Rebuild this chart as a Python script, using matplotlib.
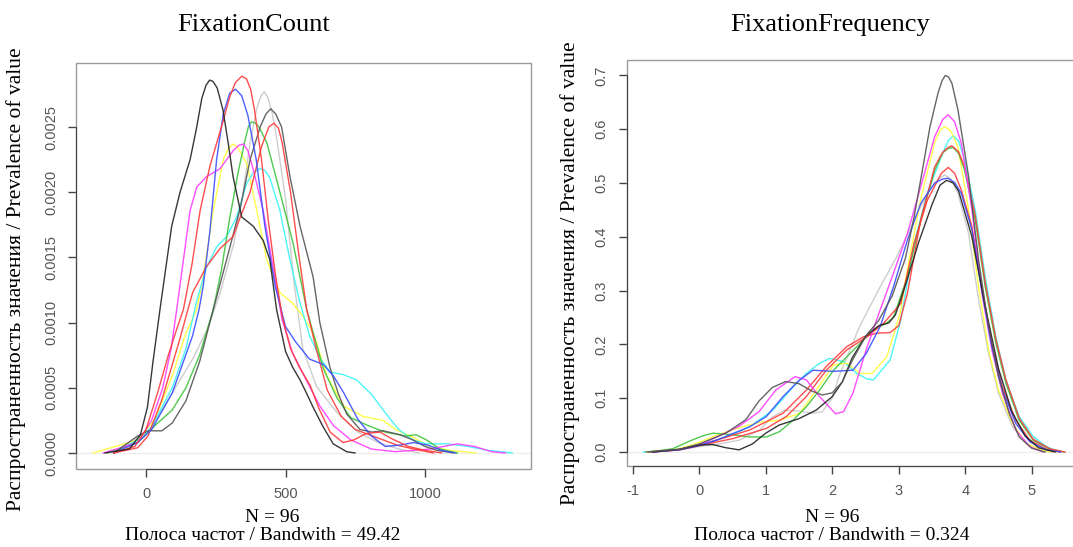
import matplotlib
matplotlib.use("Agg")
import matplotlib.pyplot as plt
from matplotlib.patches import Rectangle

# ---- FixationCount densities ----
fc_black_x = [-147, -60, -20, 5, 25, 50, 92, 122, 158, 180, 200, 215, 228, 240, 255, 276, 295, 312, 343, 384, 420, 444, 468, 500, 525, 552, 575, 599, 635, 671, 719, 749]
fc_black_y = [0, 0.00003, 0.00014, 0.00035, 0.0007, 0.0011, 0.00174, 0.002, 0.00225, 0.00248, 0.00272, 0.00282, 0.00286, 0.00285, 0.0028, 0.00263, 0.00237, 0.00212, 0.00181, 0.00174, 0.00163, 0.00148, 0.0011, 0.00078, 0.00066, 0.00056, 0.00046, 0.00035, 0.0002, 0.00007, 0.00001, 0]

fc_red1_x = [-116, -40, 0, 40, 80, 110, 134, 165, 194, 229, 277, 300, 320, 343, 360, 375, 389, 414, 438, 463, 488, 518, 549, 588, 620, 660, 706, 745, 790, 839, 880, 940, 1000, 1060]
fc_red1_y = [0, 0.00005, 0.00018, 0.00045, 0.00075, 0.00095, 0.0011, 0.00145, 0.00186, 0.0022, 0.00255, 0.00273, 0.00284, 0.00289, 0.00287, 0.00279, 0.00263, 0.00225, 0.00179, 0.00138, 0.00105, 0.0008, 0.00066, 0.00052, 0.00034, 0.00016, 0.00008, 0.0001, 0.00015, 0.00016, 0.00011, 0.00005, 0.00002, 0]

fc_blue_x = [-116, -30, 20, 94, 167, 190, 205, 229, 253, 277, 300, 321, 343, 365, 395, 426, 463, 500, 537, 586, 635, 672, 709, 759, 808, 857, 910, 960, 1010, 1060, 1110]
fc_blue_y = [0, 0.00008, 0.00018, 0.00046, 0.0009, 0.0011, 0.00128, 0.0017, 0.00225, 0.0026, 0.00276, 0.00279, 0.00274, 0.00259, 0.00225, 0.00174, 0.00128, 0.00097, 0.00085, 0.00072, 0.00068, 0.00059, 0.00046, 0.00026, 0.00013, 0.00005, 0.00006, 0.00008, 0.00006, 0.00002, 0]

fc_gray_x = [-116, 7, 94, 167, 220, 266, 315, 348, 373, 397, 412, 424, 436, 452, 468, 500, 531, 562, 611, 685, 759, 832, 906, 980]
fc_gray_y = [0, 0.00016, 0.00046, 0.00072, 0.00095, 0.00123, 0.00161, 0.002, 0.00238, 0.00264, 0.00274, 0.00277, 0.00273, 0.00261, 0.00242, 0.00195, 0.0013, 0.0008, 0.00051, 0.00031, 0.00016, 0.00008, 0.00003, 0]

fc_dark_x = [-116, -30, 7, 57, 94, 143, 192, 241, 291, 340, 373, 409, 430, 447, 465, 486, 516, 552, 599, 623, 660, 690, 719, 767, 810, 850, 910, 957, 1000, 1042, 1103]
fc_dark_y = [0, 0.00013, 0.00017, 0.00017, 0.00023, 0.0004, 0.0007, 0.0011, 0.0015, 0.0019, 0.00225, 0.0025, 0.0026, 0.00264, 0.0026, 0.0025, 0.00212, 0.00174, 0.00135, 0.001, 0.00065, 0.00045, 0.0003, 0.00018, 0.00016, 0.00017, 0.00014, 0.0001, 0.00005, 0.00002, 0]

fc_red2_x = [-116, -30, 7, 57, 118, 167, 217, 266, 312, 340, 373, 414, 440, 459, 475, 488, 518, 549, 576, 610, 650, 700, 750, 800, 850, 900, 960, 1030]
fc_red2_y = [0, 0.00004, 0.00013, 0.00041, 0.00085, 0.00123, 0.00143, 0.00157, 0.00166, 0.00182, 0.002, 0.00235, 0.0025, 0.00253, 0.00249, 0.00238, 0.002, 0.0015, 0.0011, 0.0008, 0.00048, 0.00028, 0.00018, 0.00014, 0.0001, 0.00006, 0.00003, 0]

fc_green_x = [-140, -30, 32, 94, 143, 192, 241, 270, 300, 330, 355, 368, 379, 392, 405, 433, 480, 527, 576, 635, 685, 734, 796, 857, 931, 968, 1005, 1054, 1116]
fc_green_y = [0, 0.00008, 0.00021, 0.00033, 0.0005, 0.00075, 0.0011, 0.0014, 0.0018, 0.00215, 0.0024, 0.00251, 0.00254, 0.00253, 0.0025, 0.00238, 0.002, 0.00161, 0.0011, 0.00065, 0.00042, 0.00027, 0.00021, 0.00016, 0.00013, 0.00014, 0.0001, 0.00003, 0]

fc_yellow_x = [-190, -30, 32, 94, 143, 182, 205, 241, 277, 296, 313, 330, 361, 397, 433, 480, 525, 562, 592, 611, 648, 709, 778, 850, 894, 957, 1017, 1091, 1183]
fc_yellow_y = [0, 0.0001, 0.00026, 0.00059, 0.00092, 0.0011, 0.00135, 0.00186, 0.00225, 0.00234, 0.00237, 0.00234, 0.00222, 0.00186, 0.00148, 0.00123, 0.00115, 0.00105, 0.00095, 0.00085, 0.00059, 0.00036, 0.00028, 0.00025, 0.00018, 0.00012, 0.00005, 0.00002, 0]

fc_magenta_x = [-153, -30, 20, 60, 90, 110, 134, 158, 182, 217, 265, 313, 333, 349, 365, 385, 420, 451, 488, 525, 574, 623, 672, 734, 808, 894, 1017, 1116, 1177, 1239, 1288]
fc_magenta_y = [0, 0.00008, 0.00025, 0.0005, 0.0008, 0.0011, 0.00148, 0.00186, 0.00204, 0.00212, 0.00218, 0.00232, 0.00236, 0.00237, 0.00232, 0.00217, 0.00186, 0.00148, 0.00102, 0.00077, 0.00056, 0.00036, 0.00021, 0.0001, 0.00003, 0.00001, 0.00003, 0.00007, 0.00005, 0.00001, 0]

fc_cyan_x = [-116, -30, 20, 94, 143, 182, 218, 253, 289, 325, 361, 385, 406, 425, 444, 480, 516, 552, 586, 623, 660, 709, 755, 808, 857, 906, 956, 1005, 1079, 1153, 1227, 1313]
fc_cyan_y = [0, 0.0001, 0.0002, 0.0005, 0.0008, 0.00117, 0.00143, 0.00158, 0.00166, 0.00181, 0.00207, 0.00215, 0.00218, 0.00217, 0.00211, 0.00186, 0.00148, 0.00115, 0.0009, 0.00073, 0.00062, 0.0006, 0.00056, 0.00045, 0.00031, 0.00018, 0.0001, 0.00007, 0.00007, 0.00005, 0.00002, 0]

fc_xticks = [0, 500, 1000]
fc_yticks = [0.0, 0.0005, 0.0010, 0.0015, 0.0020, 0.0025]
fc_ylabels = ["0.0000", "0.0005", "0.0010", "0.0015", "0.0020", "0.0025"]

# ---- FixationFrequency densities ----
ff_black1_x = [-0.8, -0.3, 0.0, 0.4, 0.7, 0.9, 1.1, 1.3, 1.5, 1.7, 1.85, 2.0, 2.15, 2.3, 2.5, 2.7, 2.9, 3.1, 3.22, 3.35, 3.47, 3.59, 3.65, 3.7, 3.75, 3.8, 3.89, 4.05, 4.2, 4.35, 4.5, 4.66, 4.81, 5.0, 5.2]
ff_black1_y = [0, 0.005, 0.015, 0.035, 0.06, 0.095, 0.12, 0.131, 0.127, 0.113, 0.106, 0.11, 0.13, 0.17, 0.215, 0.245, 0.29, 0.36, 0.43, 0.52, 0.605, 0.667, 0.69, 0.70, 0.697, 0.685, 0.636, 0.512, 0.357, 0.233, 0.14, 0.072, 0.028, 0.007, 0]

ff_black2_x = [-0.7, -0.3, 0.0, 0.2, 0.4, 0.6, 0.8, 1.0, 1.2, 1.5, 1.76, 2.0, 2.15, 2.3, 2.5, 2.7, 2.85, 2.95, 3.1, 3.3, 3.5, 3.62, 3.72, 3.82, 3.9, 4.1, 4.3, 4.5, 4.7, 4.9, 5.1, 5.35]
ff_black2_y = [0, 0.005, 0.013, 0.014, 0.008, 0.004, 0.015, 0.035, 0.05, 0.062, 0.078, 0.103, 0.13, 0.175, 0.215, 0.235, 0.24, 0.255, 0.31, 0.39, 0.46, 0.496, 0.505, 0.5, 0.485, 0.4, 0.27, 0.155, 0.075, 0.03, 0.008, 0]

ff_magenta_x = [-0.7, -0.3, 0.0, 0.3, 0.6, 0.9, 1.15, 1.44, 1.61, 1.81, 2.05, 2.17, 2.31, 2.51, 2.72, 2.92, 3.13, 3.33, 3.54, 3.66, 3.74, 3.84, 3.94, 4.1, 4.25, 4.4, 4.56, 4.76, 4.97, 5.17]
ff_magenta_y = [0, 0.005, 0.013, 0.03, 0.048, 0.075, 0.115, 0.14, 0.134, 0.103, 0.071, 0.075, 0.109, 0.19, 0.264, 0.332, 0.406, 0.493, 0.586, 0.618, 0.627, 0.614, 0.574, 0.45, 0.295, 0.19, 0.109, 0.041, 0.01, 0]

ff_yellow_x = [-0.8, -0.3, 0.0, 0.3, 0.6, 0.9, 1.2, 1.51, 1.76, 2.02, 2.22, 2.42, 2.6, 2.82, 3.02, 3.13, 3.33, 3.54, 3.62, 3.69, 3.78, 3.89, 4.05, 4.2, 4.35, 4.5, 4.71, 4.92, 5.17, 5.38]
ff_yellow_y = [0, 0.006, 0.018, 0.033, 0.045, 0.055, 0.059, 0.072, 0.115, 0.162, 0.165, 0.146, 0.146, 0.177, 0.258, 0.34, 0.47, 0.575, 0.598, 0.605, 0.597, 0.567, 0.45, 0.307, 0.19, 0.115, 0.053, 0.016, 0.002, 0]

ff_cyan_x = [-0.84, -0.3, 0.0, 0.3, 0.55, 0.76, 1.11, 1.41, 1.61, 1.81, 1.96, 2.17, 2.37, 2.52, 2.62, 2.87, 3.03, 3.23, 3.43, 3.64, 3.74, 3.82, 3.9, 3.99, 4.15, 4.3, 4.46, 4.61, 4.81, 5.02, 5.22, 5.43]
ff_cyan_y = [0, 0.005, 0.013, 0.024, 0.035, 0.047, 0.078, 0.121, 0.146, 0.165, 0.174, 0.168, 0.146, 0.136, 0.134, 0.171, 0.245, 0.388, 0.481, 0.549, 0.578, 0.588, 0.578, 0.543, 0.45, 0.326, 0.214, 0.134, 0.066, 0.029, 0.01, 0]

ff_green_x = [-0.75, -0.4, -0.15, 0.05, 0.21, 0.51, 0.76, 1.01, 1.21, 1.41, 1.61, 1.81, 2.02, 2.22, 2.42, 2.62, 2.82, 2.92, 3.13, 3.33, 3.54, 3.66, 3.74, 3.82, 3.9, 3.99, 4.15, 4.3, 4.46, 4.61, 4.81, 5.02, 5.27, 5.48]
ff_green_y = [0, 0.006, 0.02, 0.03, 0.035, 0.032, 0.028, 0.028, 0.038, 0.059, 0.084, 0.115, 0.152, 0.177, 0.202, 0.227, 0.24, 0.25, 0.326, 0.431, 0.524, 0.556, 0.564, 0.566, 0.555, 0.524, 0.431, 0.307, 0.202, 0.128, 0.059, 0.022, 0.005, 0]

ff_red1_x = [-0.75, -0.3, 0.0, 0.26, 0.76, 1.26, 1.61, 1.91, 2.22, 2.47, 2.67, 2.87, 3.0, 3.13, 3.33, 3.54, 3.66, 3.74, 3.8, 3.9, 3.99, 4.15, 4.3, 4.46, 4.61, 4.81, 5.02, 5.27, 5.5]
ff_red1_y = [0, 0.004, 0.012, 0.022, 0.041, 0.072, 0.115, 0.159, 0.196, 0.214, 0.221, 0.222, 0.235, 0.295, 0.431, 0.53, 0.557, 0.566, 0.569, 0.558, 0.53, 0.44, 0.315, 0.21, 0.135, 0.063, 0.024, 0.006, 0]

ff_red2_x = [-0.7, -0.3, 0.0, 0.51, 1.01, 1.31, 1.61, 1.91, 2.22, 2.52, 2.77, 3.03, 3.23, 3.43, 3.64, 3.745, 3.84, 3.94, 4.1, 4.25, 4.4, 4.56, 4.76, 4.97, 5.22, 5.43]
ff_red2_y = [0, 0.004, 0.012, 0.025, 0.044, 0.066, 0.103, 0.152, 0.19, 0.214, 0.239, 0.276, 0.388, 0.468, 0.518, 0.529, 0.518, 0.487, 0.419, 0.307, 0.202, 0.121, 0.059, 0.022, 0.005, 0]

ff_gray_x = [-0.7, -0.3, 0.0, 0.3, 0.6, 0.9, 1.1, 1.29, 1.5, 1.7, 1.85, 2.0, 2.1, 2.41, 2.72, 2.97, 3.23, 3.43, 3.6, 3.69, 3.78, 3.89, 4.05, 4.2, 4.35, 4.5, 4.71, 4.92, 5.17, 5.35]
ff_gray_y = [0, 0.004, 0.01, 0.015, 0.022, 0.04, 0.065, 0.078, 0.076, 0.072, 0.075, 0.1, 0.14, 0.233, 0.307, 0.363, 0.431, 0.481, 0.508, 0.515, 0.508, 0.481, 0.406, 0.283, 0.183, 0.109, 0.047, 0.016, 0.002, 0]

ff_blue_x = [-0.7, -0.3, 0.0, 0.26, 0.76, 1.01, 1.26, 1.51, 1.71, 2.02, 2.31, 2.51, 2.72, 2.92, 3.13, 3.33, 3.54, 3.65, 3.74, 3.84, 3.94, 4.1, 4.25, 4.4, 4.56, 4.76, 4.97, 5.22, 5.43]
ff_blue_y = [0, 0.004, 0.012, 0.022, 0.047, 0.066, 0.103, 0.134, 0.152, 0.15, 0.152, 0.183, 0.233, 0.307, 0.394, 0.462, 0.5, 0.507, 0.509, 0.501, 0.481, 0.413, 0.301, 0.196, 0.115, 0.053, 0.019, 0.004, 0]

ff_xticks = [-1, 0, 1, 2, 3, 4, 5]
ff_yticks = [0.0, 0.1, 0.2, 0.3, 0.4, 0.5, 0.6, 0.7]
ff_ylabels = ["0.0", "0.1", "0.2", "0.3", "0.4", "0.5", "0.6", "0.7"]

# R default palette, a bit washed out like the screenshot
c_black = "#222222"
c_dark = "#555555"
c_red = "#ff3a3a"
c_blue = "#3a4dff"
c_green = "#3cc43c"
c_gray = "#c8c8c8"
c_cyan = "#3af5f5"
c_magenta = "#ff3aff"
c_yellow = "#ffff3a"

serif = "Liberation Serif"
sans = "Liberation Sans"
W, H = 1073, 547


def r_axes(ax, xticks, yticks, ylabels):
    for s in ax.spines.values():
        s.set_visible(False)
    ax.add_patch(Rectangle((0, 0), 1, 1, transform=ax.transAxes, fill=False,
                           ec="#9a9a9a", lw=1.0, clip_on=False, zorder=5))
    ax.spines["left"].set_visible(True)
    ax.spines["bottom"].set_visible(True)
    ax.spines["left"].set_bounds(yticks[0], yticks[-1])
    ax.spines["bottom"].set_bounds(xticks[0], xticks[-1])
    ax.spines["left"].set_color("#444444")
    ax.spines["bottom"].set_color("#444444")
    ax.spines["left"].set_zorder(6)
    ax.spines["bottom"].set_zorder(6)
    ax.set_xticks(xticks)
    ax.set_xticklabels([str(t) for t in xticks])
    ax.set_yticks(yticks)
    ax.set_yticklabels(ylabels, rotation=90, va="center")
    ax.tick_params(direction="out", length=6, width=1, color="#444444",
                   labelcolor="#555555", labelsize=10.5, pad=7)
    for lab in ax.get_xticklabels() + ax.get_yticklabels():
        lab.set_family(sans)
    ax.axhline(0, color="#eeeeee", lw=1, zorder=0)


fig = plt.figure(figsize=(W / 100, H / 100), dpi=100)

# left panel
ax1 = fig.add_axes([76 / W, 1 - 469 / H, 455 / W, 406.5 / H])
ax1.set_xlim(-251, 1380)
ax1.set_ylim(-0.000123, 0.002995)
r_axes(ax1, fc_xticks, fc_yticks, fc_ylabels)
fc_curves = [
    (fc_gray_x, fc_gray_y, c_gray),
    (fc_yellow_x, fc_yellow_y, c_yellow),
    (fc_cyan_x, fc_cyan_y, c_cyan),
    (fc_green_x, fc_green_y, c_green),
    (fc_magenta_x, fc_magenta_y, c_magenta),
    (fc_dark_x, fc_dark_y, c_dark),
    (fc_red2_x, fc_red2_y, c_red),
    (fc_blue_x, fc_blue_y, c_blue),
    (fc_red1_x, fc_red1_y, c_red),
    (fc_black_x, fc_black_y, c_black),
]
for x, y, c in fc_curves:
    ax1.plot(x, y, color=c, lw=1.0, alpha=0.9, solid_joinstyle="round")

# right panel
ax2 = fig.add_axes([626.7 / W, 1 - 466 / H, (1085 - 626.7) / W, 406.5 / H])
ax2.set_xlim(-1.09, 5.8)
ax2.set_ylim(-0.026, 0.7296)
r_axes(ax2, ff_xticks, ff_yticks, ff_ylabels)
ff_curves = [
    (ff_gray_x, ff_gray_y, c_gray),
    (ff_cyan_x, ff_cyan_y, c_cyan),
    (ff_yellow_x, ff_yellow_y, c_yellow),
    (ff_green_x, ff_green_y, c_green),
    (ff_red1_x, ff_red1_y, c_red),
    (ff_red2_x, ff_red2_y, c_red),
    (ff_magenta_x, ff_magenta_y, c_magenta),
    (ff_blue_x, ff_blue_y, c_blue),
    (ff_black2_x, ff_black2_y, c_black),
    (ff_black1_x, ff_black1_y, c_dark),
]
for x, y, c in ff_curves:
    ax2.plot(x, y, color=c, lw=1.0, alpha=0.9, solid_joinstyle="round")

# titles and axis texts
fig.text(253.5 / W, 1 - 25 / H, "FixationCount", ha="center", va="center",
         family=serif, size=19)
fig.text(830.5 / W, 1 - 25 / H, "FixationFrequency", ha="center", va="center",
         family=serif, size=19)
ylab = "Распространенность значения / Prevalence of value"
fig.text(16.5 / W, 1 - 279 / H, ylab, rotation=90, ha="center", va="center",
         family=serif, size=15.5)
fig.text(570 / W, 1 - 273.5 / H, ylab, rotation=90, ha="center", va="center",
         family=serif, size=15.5)
fig.text(272 / W, 1 - 517 / H, "N = 96", ha="center", va="center", family=serif, size=14)
fig.text(263 / W, 1 - 535 / H, "Полоса частот / Bandwith = 49.42", ha="center",
         va="center", family=serif, size=14)
fig.text(832 / W, 1 - 518 / H, "N = 96", ha="center", va="center", family=serif, size=14)
fig.text(832 / W, 1 - 535 / H, "Полоса частот / Bandwith = 0.324", ha="center",
         va="center", family=serif, size=14)

fig.savefig("out.png", dpi=100)
